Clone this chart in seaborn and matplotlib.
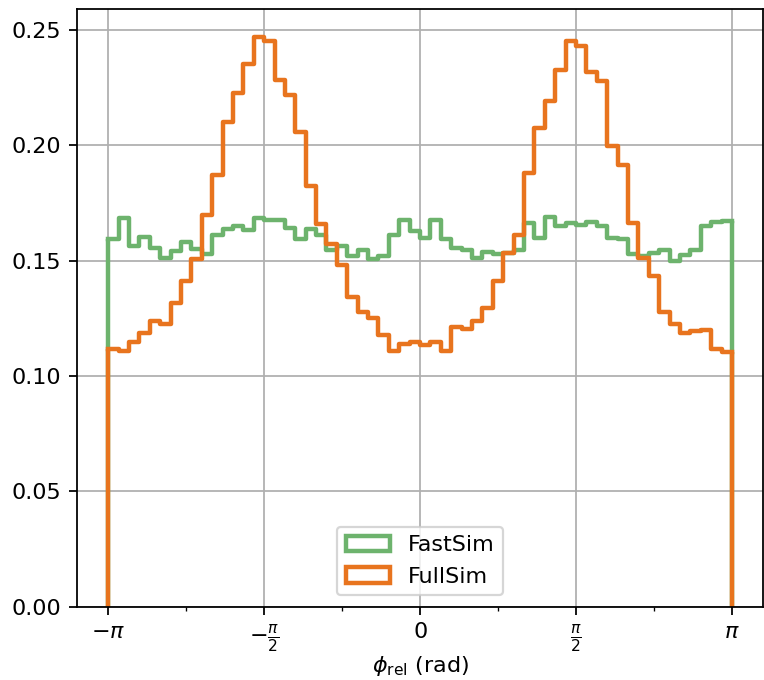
import numpy as np
import pandas as pd
import matplotlib
matplotlib.use("Agg")
import matplotlib.pyplot as plt
from matplotlib.patches import Patch
import seaborn as sns

# bin edges: 60 bins over [-pi, pi]
n_bins = 60
edges = np.linspace(-np.pi, np.pi, n_bins + 1)
centers = 0.5 * (edges[:-1] + edges[1:])

# normalised bin heights
fastsim = [0.1592, 0.1683, 0.1563, 0.1602, 0.1556, 0.1512, 0.1541, 0.1580, 0.1551, 0.1530,
           0.1609, 0.1635, 0.1649, 0.1631, 0.1683, 0.1678, 0.1675, 0.1642, 0.1592, 0.1635,
           0.1613, 0.1548, 0.1563, 0.1522, 0.1548, 0.1508, 0.1522, 0.1609, 0.1674, 0.1628,
           0.1599, 0.1678, 0.1592, 0.1556, 0.1548, 0.1512, 0.1537, 0.1530, 0.1534, 0.1544,
           0.1661, 0.1599, 0.1688, 0.1649, 0.1661, 0.1654, 0.1667, 0.1649, 0.1599, 0.1592,
           0.1527, 0.1522, 0.1534, 0.1544, 0.1498, 0.1524, 0.1548, 0.1649, 0.1667, 0.1670]

fullsim = [0.1116, 0.1106, 0.1145, 0.1185, 0.1236, 0.1224, 0.1318, 0.1411, 0.1505, 0.1697,
           0.1870, 0.2101, 0.2226, 0.2352, 0.2468, 0.2454, 0.2284, 0.2219, 0.2056, 0.1822,
           0.1659, 0.1574, 0.1479, 0.1340, 0.1275, 0.1250, 0.1176, 0.1106, 0.1138, 0.1145,
           0.1135, 0.1145, 0.1109, 0.1214, 0.1202, 0.1238, 0.1296, 0.1411, 0.1531, 0.1613,
           0.1880, 0.2075, 0.2193, 0.2327, 0.2452, 0.2432, 0.2316, 0.2277, 0.1995, 0.1913,
           0.1661, 0.1510, 0.1433, 0.1275, 0.1224, 0.1188, 0.1195, 0.1199, 0.1116, 0.1104]

labels = ["FastSim", "FullSim"]
colors = ["#6db36d", "#e8741e"]
tick_pos = [-np.pi, -np.pi / 2, 0, np.pi / 2, np.pi]
tick_labels = [r"$-\pi$", r"$-\frac{\pi}{2}$", r"$0$", r"$\frac{\pi}{2}$", r"$\pi$"]
minor_pos = [-3 * np.pi / 4, -np.pi / 4, np.pi / 4, 3 * np.pi / 4]

DPI = 160
fig = plt.figure(figsize=(764 / DPI, 680 / DPI), dpi=DPI)
ax = fig.add_axes([0.1008, 0.108, 0.898, 0.879])
ax.grid(True, zorder=0)
ax.set_axisbelow(True)

handles = []
for vals, lab, c in zip([fastsim, fullsim], labels, colors):
    df = pd.DataFrame({"phi": centers, "w": vals})
    sns.histplot(data=df, x="phi", weights="w", bins=edges.tolist(), element="step",
                 fill=False, color=c, linewidth=2, ax=ax)
    # close the step outline down to zero at both ends, like histtype='step'
    ax.vlines([edges[0], edges[-1]], 0, [vals[0], vals[-1]], colors=c, linewidth=2)
    handles.append(Patch(facecolor="white", edgecolor=c, linewidth=2, label=lab))

ax.set_xticks(tick_pos)
ax.set_xticklabels(tick_labels)
ax.set_xticks(minor_pos, minor=True)
ax.set_ylim(0, None)
ax.set_xlabel(r"$\phi_{\rm rel}$ (rad)", labelpad=0)
ax.set_ylabel("")
ax.legend(handles=handles, loc="lower center")

fig.savefig("out.png", dpi=DPI)
